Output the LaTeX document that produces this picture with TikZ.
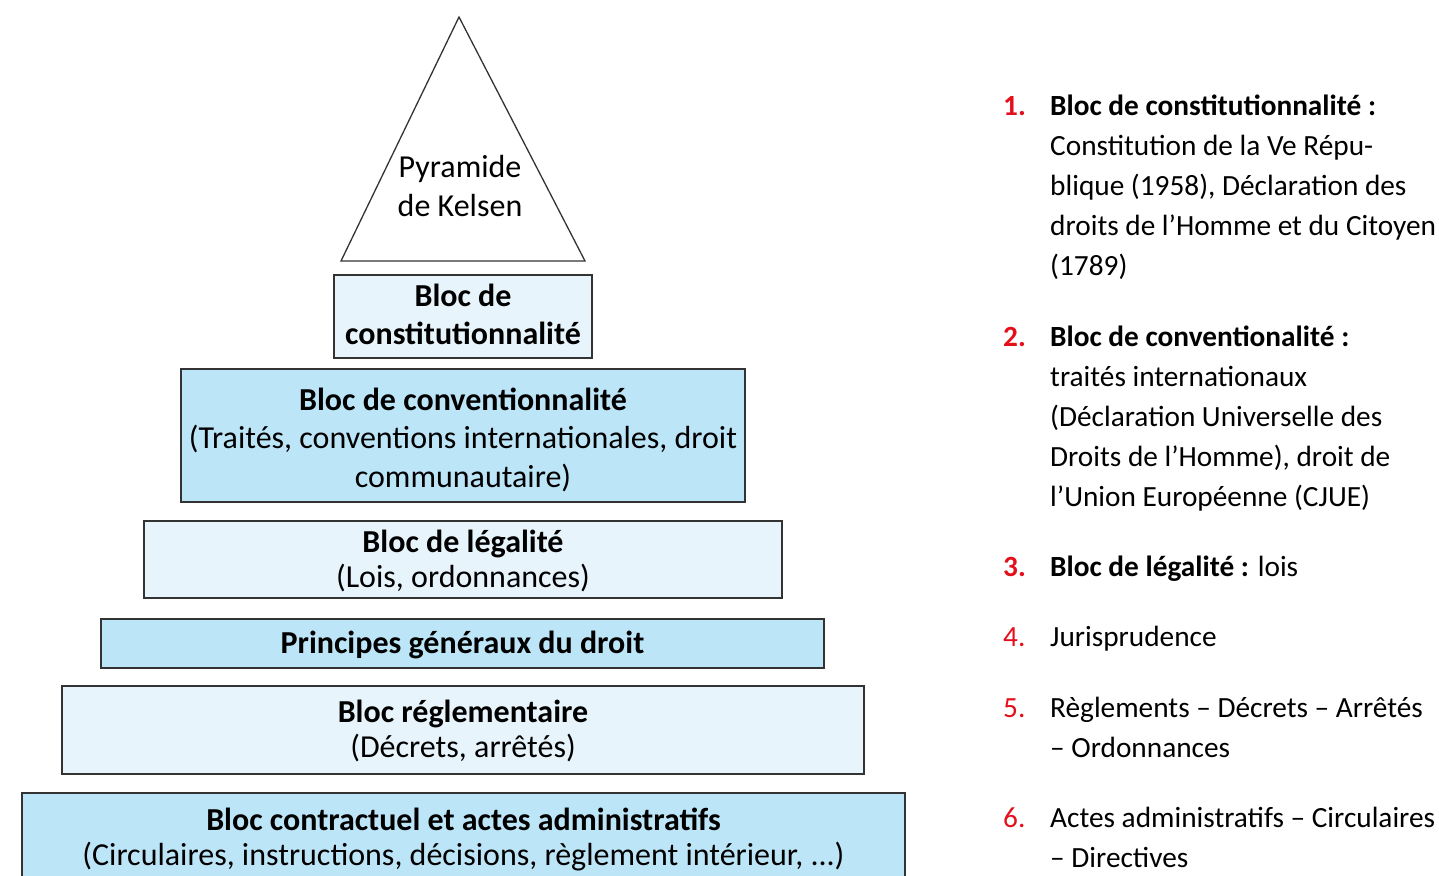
\documentclass[tikz,border=0pt]{standalone}
\usepackage{fontspec}
\setmainfont{Carlito}
\definecolor{lightblue}{HTML}{E8F4FC}
\definecolor{midblue}{HTML}{BDE5F8}
\definecolor{numred}{HTML}{E3101C}
\definecolor{edge}{HTML}{333333}
\tikzset{
  lvl/.style={draw=edge, line width=1.3pt, inner sep=0pt},
  lvllight/.style={lvl, fill=lightblue},
  lvldark/.style={lvl, fill=midblue},
  lvltext/.style={align=center, inner sep=0pt, font=\fontsize{32}{38.5}\selectfont},
  lvltextb/.style={align=center, inner sep=0pt, font=\fontsize{32}{35}\selectfont},
  num/.style={anchor=base west, inner sep=0pt, text=numred, font=\fontsize{29.3}{40}\selectfont},
  item/.style={anchor=base west, inner sep=0pt, align=left, font=\fontsize{29.3}{40}\selectfont}
}
\begin{document}
\begin{tikzpicture}[x=1pt,y=-1pt]
\useasboundingbox (0,0) rectangle (1439,875);
% triangle
\coordinate (apex) at (459,17);
\coordinate (bl) at (341,261);
\coordinate (br) at (585,261);
\draw[edge, line width=1.3pt, line join=miter] (apex) -- (br) -- (bl) -- cycle;
\node[align=center, inner sep=0pt, font=\fontsize{32}{39}\selectfont] (kelsen) at (460,186.5) {Pyramide\\de Kelsen};
% levels
\node[lvllight, minimum width=258pt, minimum height=83pt] (b1) at (463,316.5) {};
\node[lvltext] (b1t) at (463,314.5) {\textbf{Bloc de}\\\textbf{constitutionnalité}};
\node[lvldark, minimum width=564pt, minimum height=133pt] (b2) at (463,435.5) {};
\node[lvltext] (b2t) at (463,439.5) {\textbf{Bloc de conventionnalité}\\(Traités, conventions internationales, droit\\communautaire)};
\node[lvllight, minimum width=638pt, minimum height=77pt] (b3) at (463,559.5) {};
\node[lvltextb] (b3t) at (463,561) {\textbf{Bloc de légalité}\\(Lois, ordonnances)};
\node[lvldark, minimum width=723pt, minimum height=49pt] (b4) at (462.5,643.5) {};
\node[lvltext] (b4t) at (462.5,644.5) {\textbf{Principes généraux du droit}};
\node[lvllight, minimum width=802pt, minimum height=88pt] (b5) at (463,730) {};
\node[lvltextb] (b5t) at (463,731) {\textbf{Bloc réglementaire}\\(Décrets, arrêtés)};
\node[lvldark, minimum width=883pt, minimum height=87pt] (b6) at (463.5,836.5) {};
\node[lvltextb] (b6t) at (463.5,839.5) {\textbf{Bloc contractuel et actes administratifs}\\(Circulaires, instructions, décisions, règlement intérieur, ...)};
% list (base anchor = baseline of last line)
\node[num] (n1) at (1003,115) {\textbf{1.}};
\node[item] (t1) at (1050,275) {\textbf{Bloc de constitutionnalité :}\\Constitution de la Ve Répu-\\blique (1958), Déclaration des\\droits de l’Homme et du Citoyen\\(1789)};
\node[num] (n2) at (1003,346) {\textbf{2.}};
\node[item] (t2) at (1050,506) {\textbf{Bloc de conventionalité :}\\traités internationaux\\(Déclaration Universelle des\\Droits de l’Homme), droit de\\l’Union Européenne (CJUE)};
\node[num] (n3) at (1003,576) {\textbf{3.}};
\node[item] (t3) at (1050,576) {\textbf{Bloc de légalité :} lois};
\node[num] (n4) at (1003,646) {4.};
\node[item] (t4) at (1050,646) {Jurisprudence};
\node[num] (n5) at (1003,717) {5.};
\node[item] (t5) at (1050,757) {Règlements – Décrets – Arrêtés\\– Ordonnances};
\node[num] (n6) at (1003,827) {6.};
\node[item] (t6) at (1050,867) {Actes administratifs – Circulaires\\– Directives};
\end{tikzpicture}
\end{document}
